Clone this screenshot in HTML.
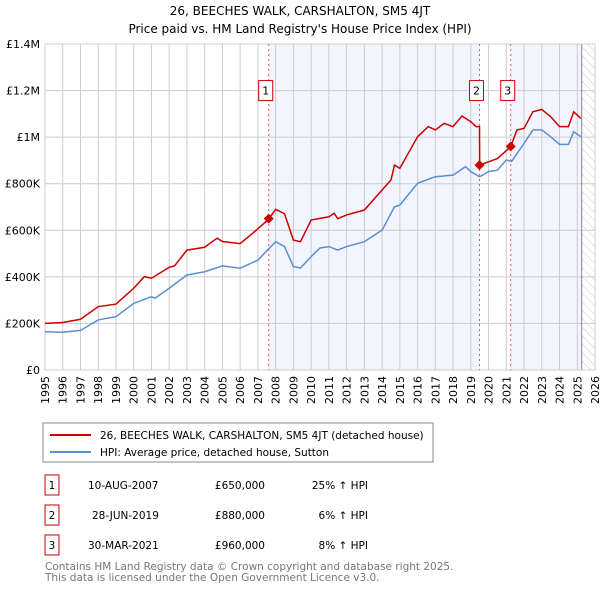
<!DOCTYPE html>
<html><head><meta charset="utf-8"><style>
body{margin:0;background:#fff;font-family:"DejaVu Sans","Liberation Sans",sans-serif;}
svg text{font-family:"DejaVu Sans","Liberation Sans",sans-serif;}
</style></head><body>
<svg id="c" width="600" height="590" xmlns="http://www.w3.org/2000/svg">
<defs><pattern id="hatch" width="6" height="6" patternUnits="userSpaceOnUse" patternTransform="rotate(-45)"><line x1="0" y1="0" x2="0" y2="6" stroke="#ccc" stroke-width="1"/></pattern></defs>
<text x="300" y="15" text-anchor="middle" font-size="12">26, BEECHES WALK, CARSHALTON, SM5 4JT</text>
<text x="300" y="33" text-anchor="middle" font-size="12">Price paid vs. HM Land Registry's House Price Index (HPI)</text>
<g id="plot"></g>
<rect x="43" y="423" width="390" height="39" fill="#fff" stroke="#888"/>
<line x1="50" y1="435" x2="91" y2="435" stroke="#cc0000" stroke-width="2"/>
<text x="100" y="439" font-size="10.5">26, BEECHES WALK, CARSHALTON, SM5 4JT (detached house)</text>
<line x1="50" y1="452" x2="91" y2="452" stroke="#5b8fd4" stroke-width="2"/>
<text x="100" y="456" font-size="10.5">HPI: Average price, detached house, Sutton</text>
<g font-size="10.5">
<rect x="45" y="475" width="14" height="20" fill="#fff" stroke="#cc0000"/><text x="52" y="489" text-anchor="middle">1</text>
<text x="88" y="489">10-AUG-2007</text><text x="265" y="489" text-anchor="end">£650,000</text><text x="368" y="489" text-anchor="end">25% ↑ HPI</text>
<rect x="45" y="505" width="14" height="20" fill="#fff" stroke="#cc0000"/><text x="52" y="519" text-anchor="middle">2</text>
<text x="92" y="519">28-JUN-2019</text><text x="265" y="519" text-anchor="end">£880,000</text><text x="368" y="519" text-anchor="end">6% ↑ HPI</text>
<rect x="45" y="535" width="14" height="20" fill="#fff" stroke="#cc0000"/><text x="52" y="549" text-anchor="middle">3</text>
<text x="88" y="549">30-MAR-2021</text><text x="265" y="549" text-anchor="end">£960,000</text><text x="368" y="549" text-anchor="end">8% ↑ HPI</text>
</g>
<text x="45" y="570" font-size="10.5" fill="#777">Contains HM Land Registry data © Crown copyright and database right 2025.</text>
<text x="45" y="581" font-size="10.5" fill="#777">This data is licensed under the Open Government Licence v3.0.</text>
</svg>
<script>
const hpiYears=[1995,1996,1997,1998,1999,2000,2001,2001.2,2002,2003,2004,2005,2006,2007,2008,2008.5,2009,2009.4,2010,2010.5,2011,2011.5,2012,2013,2014,2014.7,2015,2016,2017,2018,2018.7,2019,2019.5,2020,2020.5,2021,2021.3,2022,2022.5,2023,2023.5,2024,2024.5,2024.8,2025.2];
const hpiValues=[164,162,170,215,229,286,315,308,351,408,422,447,437,472,551,530,444,438,487,524,530,515,530,551,601,701,708,802,830,837,873,852,830,852,858,902,896,973,1031,1031,1002,969,969,1023,1002];
const priceYears=[1995,1996,1997,1998,1999,2000,2000.6,2001,2002,2002.3,2003,2004,2004.7,2005,2006,2006.7,2007.6,2008,2008.5,2009,2009.4,2010,2011,2011.3,2011.5,2012,2013,2014,2014.5,2014.7,2015,2016,2016.6,2017,2017.5,2018,2018.5,2019,2019.3,2019.49,2019.5,2020,2020.5,2021.25,2021.6,2022,2022.5,2023,2023.5,2024,2024.5,2024.8,2025.2];
const priceValues=[200,204,218,272,283,351,401,394,441,447,515,527,566,552,543,587,647,690,671,558,551,644,658,673,650,666,687,773,816,880,866,1002,1045,1031,1059,1045,1091,1066,1045,1045,880,894,908,959,1031,1038,1109,1119,1088,1045,1045,1109,1081];
const saleLabels=["1","2","3"];
const saleYears=[2007.61,2019.49,2021.25];
const saleValues=[650,880,960];
const yTicks=[0,200,400,600,800,1000,1200,1400];
const yTickLabels=["£0","£200K","£400K","£600K","£800K","£1M","£1.2M","£1.4M"];
const NS="http://www.w3.org/2000/svg";
const X0=45,X1=595,Y0=370,Y1=44,XMIN=1995,XMAX=2026,YMAX=1400,DATAEND=2025.25;
const xs=y=>X0+(y-XMIN)/(XMAX-XMIN)*(X1-X0);
const ys=v=>Y0-v/YMAX*(Y0-Y1);
const g=document.getElementById('plot');
function mk(t,a){const e=document.createElementNS(NS,t);for(const k in a)e.setAttribute(k,a[k]);g.appendChild(e);return e;}
let e;
e=mk('rect',{x:xs(saleYears[0]),y:Y1,width:xs(saleYears[1])-xs(saleYears[0]),height:Y0-Y1,fill:'#f2f5fd'});


e=mk('rect',{x:xs(saleYears[2]),y:Y1,width:xs(DATAEND)-xs(saleYears[2]),height:Y0-Y1,fill:'#f2f5fd'});


e=mk('rect',{x:xs(DATAEND),y:Y1,width:X1-xs(DATAEND),height:Y0-Y1,fill:'url(#hatch)'});


for(let yr=XMIN;yr<=XMAX;yr++){
 e=mk('line',{x1:xs(yr),x2:xs(yr),y1:Y1,y2:Y0,stroke:'#cccccc','stroke-width':1});
 
 
 e=mk('text',{x:0,y:0,'font-size':11,'text-anchor':'end',transform:`translate(${xs(yr)+4},${Y0+6}) rotate(-90)`});
 e.textContent=yr;
 
 
}
yTicks.forEach((v,i)=>{
 e=mk('line',{x1:X0,x2:X1,y1:ys(v),y2:ys(v),stroke:'#cccccc','stroke-width':1});
 
 
 e=mk('text',{x:40,y:ys(v)+4,'font-size':11,'text-anchor':'end'});
 e.textContent=yTickLabels[i];
 
 
});
e=mk('line',{x1:xs(DATAEND),x2:xs(DATAEND),y1:Y1,y2:Y0,stroke:'#888','stroke-width':1});


e=mk('rect',{x:X0,y:Y1,width:X1-X0,height:Y0-Y1,fill:'none',stroke:'#cccccc'});


saleYears.forEach((yr,i)=>{
 e=mk('line',{x1:xs(yr),x2:xs(yr),y1:Y1,y2:Y0,stroke:'#ee5555','stroke-width':1,'stroke-dasharray':'2,3'});
 
 
});
e=mk('polyline',{points:hpiYears.map((y,i)=>xs(y)+','+ys(hpiValues[i])).join(' '),fill:'none',stroke:'#5b8fd4','stroke-width':1.5});


e=mk('polyline',{points:priceYears.map((y,i)=>xs(y)+','+ys(priceValues[i])).join(' '),fill:'none',stroke:'#cc0000','stroke-width':1.5});


saleYears.forEach((yr,i)=>{
 const cx=xs(yr),cy=ys(saleValues[i]);
 e=mk('polygon',{points:`${cx},${cy-5} ${cx+5},${cy} ${cx},${cy+5} ${cx-5},${cy}`,fill:'#cc0000'});
 
 
 const bx=cx-10;
 e=mk('rect',{x:bx,y:ys(1200)-10,width:14,height:20,fill:'#fff',stroke:'#cc0000'});
 
 
 e=mk('text',{x:bx+7,y:ys(1200)+4,'font-size':11,'text-anchor':'middle'});
 e.textContent=saleLabels[i];
 
 
});
</script>
</body></html>
